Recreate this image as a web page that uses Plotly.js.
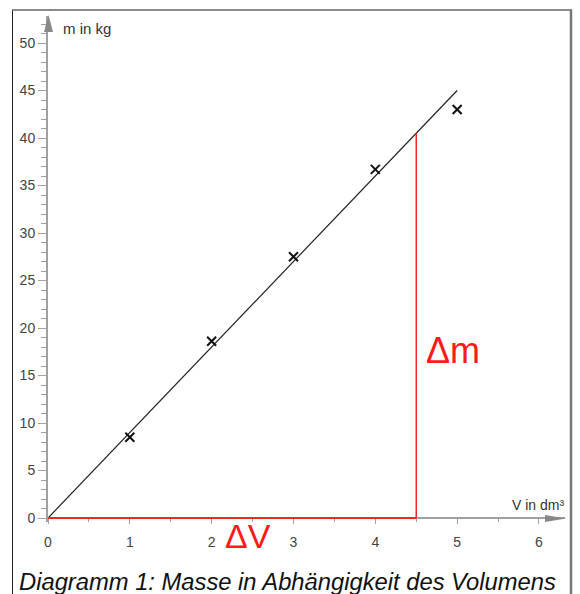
<!DOCTYPE html>
<html><head><meta charset="utf-8">
<script src="https://cdn.plot.ly/plotly-3.0.1.min.js"></script>
<style>html,body{margin:0;padding:0;background:#fff}</style>
</head><body><div id="chart" style="width:580px;height:594px"></div>
<script>
// ---- data ----
const volume = [1, 2, 3, 4, 5];               // V in dm³
const mass = [8.5, 18.6, 27.5, 36.7, 43.0];   // m in kg
const fitX = [0, 5];
const fitY = [0, 45];
const deltaVX = [0, 4.5];
const deltaVY = [0, 0];
const deltaMX = [4.5, 4.5];
const deltaMY = [0, 40.5];
const xTickVals = [0, 1, 2, 3, 4, 5, 6];
const yTickVals = [0, 5, 10, 15, 20, 25, 30, 35, 40, 45, 50];
const xAxisLabel = 'V in dm³';
const yAxisLabel = 'm in kg';
const caption = 'Diagramm 1: Masse in Abhängigkeit des Volumens';

// ---- layout geometry (pixels) ----
const L = 48, T = 16, W = 517, H = 506;
const pxX = 81.83, pxY = 9.5;
const xRange = [0, W / pxX];
const yRange = [-4 / pxY, (H - 4) / pxY];
const px = x => (x - L) / W;
const py = y => (T + H - y) / H;
const axisCol = '#a0a0a0';
const tri = pts => 'M ' + pts.map(p => px(p[0]) + ' ' + py(p[1])).join(' L ') + ' Z';

const traces = [
  {x: fitX, y: fitY, mode: 'lines', line: {color: '#222', width: 1.2}, hoverinfo: 'skip'},
  {x: deltaVX, y: deltaVY, mode: 'lines', line: {color: '#f0281e', width: 2}, hoverinfo: 'skip'},
  {x: deltaMX, y: deltaMY, mode: 'lines', line: {color: '#f0281e', width: 1.5}, hoverinfo: 'skip'},
  {x: volume, y: mass, mode: 'markers', cliponaxis: false,
   marker: {symbol: 'x-thin-open', size: 9, color: '#111', line: {color: '#111', width: 2}}}
];

const font = 'Liberation Sans, Arial, sans-serif';
const layout = {
  width: 580, height: 594,
  margin: {l: L, r: 580 - L - W, t: T, b: 594 - T - H, pad: 0},
  paper_bgcolor: '#fff', plot_bgcolor: 'rgba(0,0,0,0)',
  showlegend: false,
  font: {family: font, color: '#333', size: 14},
  xaxis: {
    range: xRange, anchor: 'free', position: 4 / H, layer: 'below traces',
    tickvals: xTickVals, ticks: 'outside', ticklen: 5, tickwidth: 1, tickcolor: axisCol,
    showline: true, linecolor: axisCol, linewidth: 2,
    showgrid: false, zeroline: false,
    minor: {dtick: 0.5, tick0: 0, ticks: 'outside', ticklen: 3, tickcolor: axisCol, showgrid: false},
    tickfont: {size: 14, color: '#444', family: font}, ticklabelstandoff: 6
  },
  yaxis: {
    range: yRange, layer: 'below traces',
    tickvals: yTickVals, ticks: 'outside', ticklen: 8, tickwidth: 1, tickcolor: axisCol,
    showline: true, linecolor: axisCol, linewidth: 2,
    showgrid: false, zeroline: false,
    minor: {dtick: 1, tick0: 0, ticks: 'outside', ticklen: 5, tickcolor: axisCol, showgrid: false},
    tickfont: {size: 14, color: '#444', family: font}
  },
  shapes: [
    // frame
    {type: 'line', xref: 'paper', yref: 'paper', x0: px(12.5), x1: px(12.5), y0: py(10), y1: py(600), line: {color: '#222', width: 1}},
    {type: 'line', xref: 'paper', yref: 'paper', x0: px(12), x1: px(572), y0: py(10), y1: py(10), line: {color: '#666', width: 1.5}},
    {type: 'line', xref: 'paper', yref: 'paper', x0: px(571), x1: px(571), y0: py(10), y1: py(600), line: {color: '#777', width: 2.5}},
    // axis arrowheads
    {type: 'path', xref: 'paper', yref: 'paper',
     path: tri([[48.5, 15], [44, 32], [53, 32]]), fillcolor: '#888', line: {width: 0}},
    {type: 'path', xref: 'paper', yref: 'paper',
     path: tri([[566, 518.5], [545, 515], [545, 522]]), fillcolor: '#888', line: {width: 0}}
  ],
  annotations: [
    {xref: 'paper', yref: 'paper', x: px(61), y: py(29), xanchor: 'left', yanchor: 'middle',
     text: yAxisLabel, showarrow: false, font: {size: 15, color: '#333', family: font}},
    {xref: 'paper', yref: 'paper', x: px(566), y: py(505), xanchor: 'right', yanchor: 'middle',
     text: xAxisLabel, showarrow: false, font: {size: 14, color: '#333', family: font}},
    {xref: 'paper', yref: 'paper', x: px(424), y: py(350), xanchor: 'left', yanchor: 'middle',
     text: 'Δm', showarrow: false, font: {size: 36, color: '#ff1a1a', family: font}},
    {xref: 'paper', yref: 'paper', x: px(223), y: py(536), xanchor: 'left', yanchor: 'middle',
     text: 'ΔV', showarrow: false, font: {size: 34, color: '#ff1a1a', family: font}},
    {xref: 'paper', yref: 'paper', x: px(17), y: py(581), xanchor: 'left', yanchor: 'middle',
     text: '<i>' + caption + '</i>', showarrow: false, font: {size: 23.75, color: '#111', family: font}}
  ]
};

Plotly.newPlot('chart', traces, layout, {staticPlot: true, displayModeBar: false});
</script></body></html>
